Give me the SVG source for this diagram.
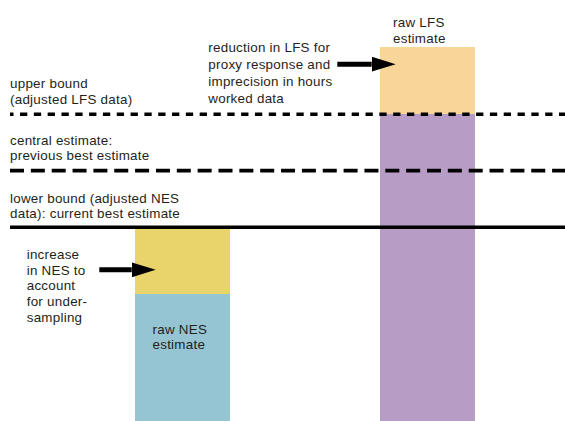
<svg xmlns="http://www.w3.org/2000/svg" width="565" height="421" viewBox="0 0 565 421">
  <defs>
    <marker id="head" markerUnits="userSpaceOnUse" markerWidth="24" markerHeight="15" refX="0" refY="7.5" orient="auto" viewBox="0 0 24 15">
      <path d="M0,0 L24,7.5 L0,15 Z" fill="#000"/>
    </marker>
    <style>
      text { font-family: "Liberation Sans", Arial, sans-serif; font-size: 13.4px; letter-spacing: 0.25px; fill: #231f20; }
      .arrow { stroke: #000; stroke-width: 5; fill: none; marker-end: url(#head); }
      .ref { stroke: #000; fill: none; }
      .dotted { stroke-width: 3.6; stroke-dasharray: 7.3 6.52; stroke-dashoffset: 3.8; }
      .dashed { stroke-width: 3.7; stroke-dasharray: 14 6.85; }
      .solid { stroke-width: 3.6; }
    </style>
  </defs>
  <rect width="565" height="421" fill="#fff"/>

  <g id="lfs-bar">
    <rect x="380" y="47" width="95" height="67" fill="#f8d598"/>
    <rect x="380" y="114" width="95" height="307" fill="#b79cc6"/>
    <text x="393" y="26.7">raw LFS</text>
    <text x="393" y="43.3">estimate</text>
  </g>

  <g id="nes-bar">
    <rect x="135" y="228" width="95" height="66" fill="#e8d46a"/>
    <rect x="135" y="294" width="95" height="127" fill="#95c5d3"/>
    <text x="152.5" y="333.5">raw NES</text>
    <text x="152.5" y="349">estimate</text>
  </g>

  <g id="reference-lines">
    <line class="ref dotted" x1="10" y1="114.3" x2="565" y2="114.3"/>
    <line class="ref dashed" x1="10" y1="170.7" x2="565" y2="170.7"/>
    <line class="ref solid" x1="10" y1="227.3" x2="565" y2="227.3"/>
  </g>

  <g id="upper-bound-label">
    <text x="10" y="88.3">upper bound</text>
    <text x="10" y="103.5">(adjusted LFS data)</text>
  </g>

  <g id="central-estimate-label">
    <text x="10" y="145">central estimate:</text>
    <text x="10" y="160.1">previous best estimate</text>
  </g>

  <g id="lower-bound-label">
    <text x="10" y="203.2">lower bound (adjusted NES</text>
    <text x="10" y="218.3">data): current best estimate</text>
  </g>

  <g id="lfs-reduction-label">
    <text x="208.3" y="51.7">reduction in LFS for</text>
    <text x="208.3" y="68.9">proxy response and</text>
    <text x="208.3" y="86.1">imprecision in hours</text>
    <text x="208.3" y="103.3">worked data</text>
  </g>

  <g id="nes-increase-label">
    <text x="26.7" y="259">increase</text>
    <text x="26.7" y="274.7">in NES to</text>
    <text x="26.7" y="290.4">account</text>
    <text x="26.7" y="306">for under-</text>
    <text x="26.7" y="321.7">sampling</text>
  </g>

  <g id="connectors">
    <line class="arrow" x1="337.3" y1="64.2" x2="371.7" y2="64.2"/>
    <line class="arrow" x1="99.3" y1="269.8" x2="131.7" y2="269.8"/>
  </g>
</svg>
